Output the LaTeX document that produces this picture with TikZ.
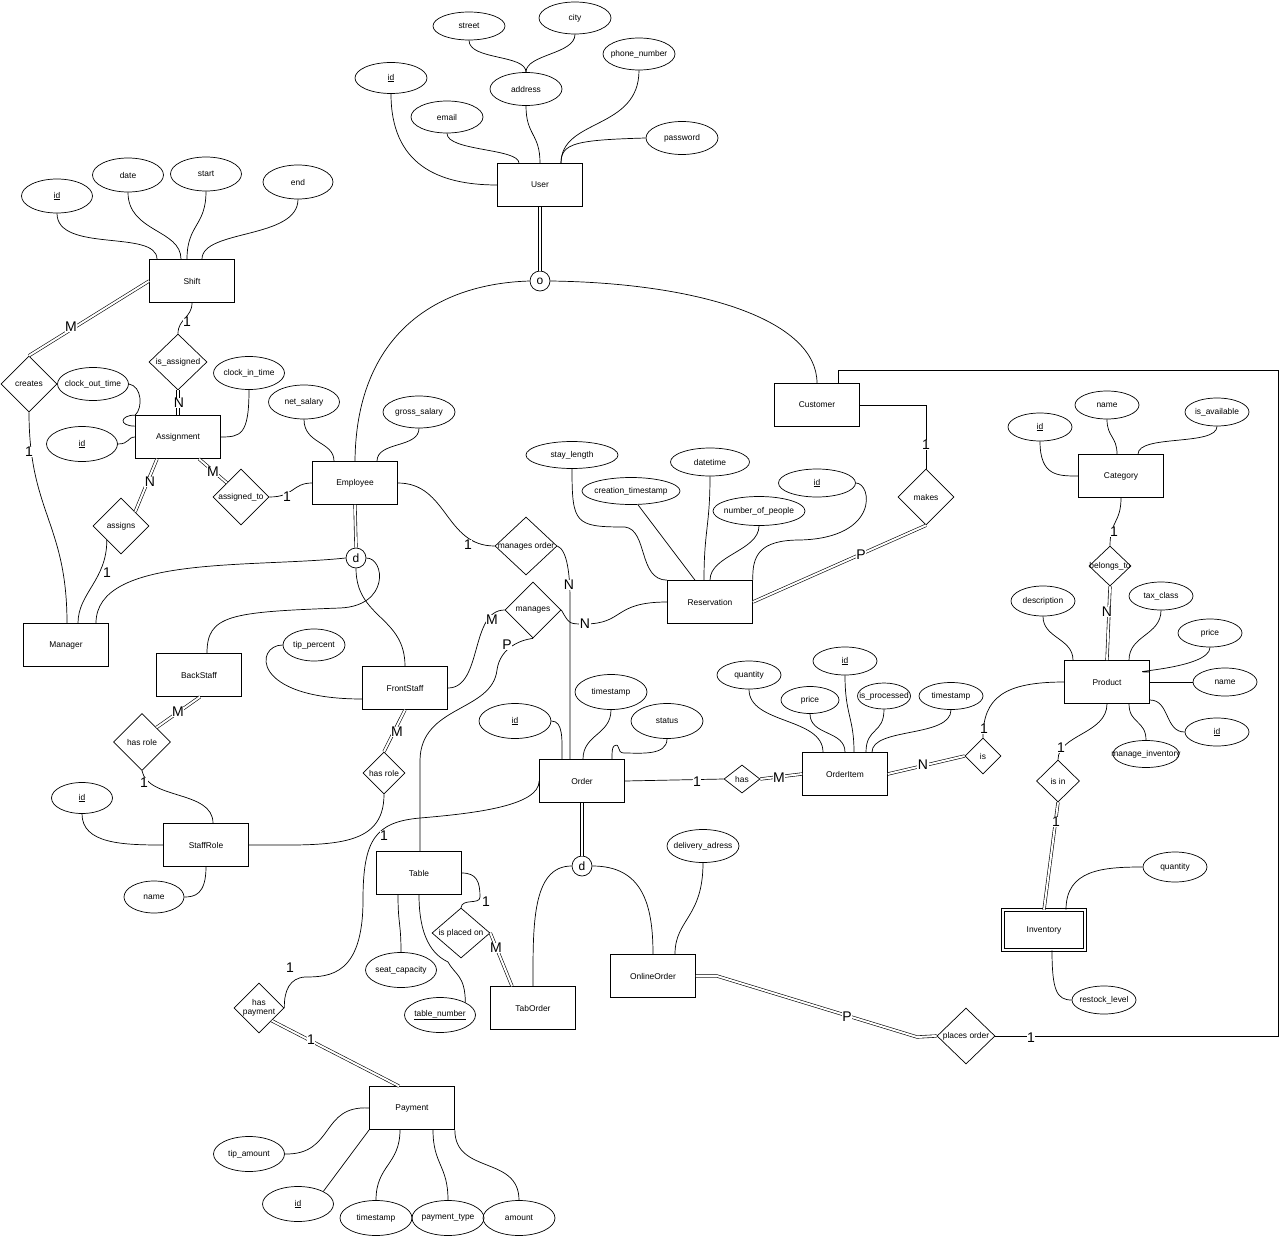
\documentclass[tikz,border=0pt]{standalone}
\usepackage{fontspec}
\setmainfont{Liberation Sans}
\usetikzlibrary{shapes.geometric,calc}
\newcommand{\mytxt}[1]{\makebox[0pt]{#1}}
\tikzset{
 erent/.style={draw, rectangle, minimum width=85pt, minimum height=43pt, inner sep=0pt, line width=0.7pt, font=\fontsize{8.4}{10}\selectfont},
 erattr/.style={draw, ellipse, minimum width=72pt, minimum height=32pt, inner sep=0pt, line width=0.7pt, font=\fontsize{8.4}{10}\selectfont},
 errel/.style={draw, diamond, minimum width=56pt, minimum height=56pt, inner sep=0pt, line width=0.7pt, font=\fontsize{8.4}{10}\selectfont},
 erspec/.style={draw, circle, minimum size=20pt, inner sep=0pt, line width=0.7pt, font=\fontsize{12}{12}\selectfont},
 erline/.style={line width=0.7pt},
 erdbl/.style={double, double distance=2pt, line width=0.6pt},
 ercard/.style={font=\fontsize{14}{14}\selectfont, fill=white, inner sep=0.5pt},
}
\begin{document}
\begin{tikzpicture}[x=1pt,y=-1pt]
\fill[white] (0,0) rectangle (1280,1236);
\useasboundingbox (0,0) rectangle (1280,1236);

% ---------------- entities
\node[erent] (User) at (540,185) {\mytxt{User}};
\node[erent] (Shift) at (192,281) {\mytxt{Shift}};
\node[erent] (Assignment) at (178,437) {\mytxt{Assignment}};
\node[erent] (Employee) at (355,483) {\mytxt{Employee}};
\node[erent] (Manager) at (66,645) {\mytxt{Manager}};
\node[erent] (BackStaff) at (199,675) {\mytxt{BackStaff}};
\node[erent] (FrontStaff) at (405,688) {\mytxt{FrontStaff}};
\node[erent] (StaffRole) at (206,845) {\mytxt{StaffRole}};
\node[erent] (Customer) at (817,405) {\mytxt{Customer}};
\node[erent] (Reservation) at (710,602) {\mytxt{Reservation}};
\node[erent] (Category) at (1121,476) {\mytxt{Category}};
\node[erent] (Product) at (1107,682) {\mytxt{Product}};
\node[erent] (Order) at (582,781) {\mytxt{Order}};
\node[erent] (OrderItem) at (845,774) {\mytxt{OrderItem}};
\node[erent] (Table) at (419,873) {\mytxt{Table}};
\node[erent] (TabOrder) at (533,1008) {\mytxt{TabOrder}};
\node[erent] (OnlineOrder) at (653,976) {\mytxt{OnlineOrder}};
\node[erent] (Payment) at (412,1108) {\mytxt{Payment}};
\node[erent, double, double distance=2.5pt, line width=0.6pt, minimum width=82pt, minimum height=40pt] (Inventory) at (1044,930) {\mytxt{Inventory}};

% ---------------- specialisation circles
\node[erspec] (o) at (540,281) {o};
\node[erspec] (d1) at (356,558) {d};
\node[erspec] (d2) at (582,866) {d};

% ---------------- relationships
\node[errel] (creates) at (29,384) {\mytxt{creates}};
\node[errel, minimum width=58pt] (isassigned) at (178,362) {\mytxt{is\_assigned}};
\node[errel] (assigns) at (121,526) {\mytxt{assigns}};
\node[errel] (assignedto) at (241,497) {\mytxt{assigned\_to}};
\node[errel, minimum width=57pt, minimum height=57pt] (hrl) at (142,742) {\mytxt{has role}};
\node[errel, minimum width=42pt, minimum height=42pt] (hrr) at (384,773) {\mytxt{has role}};
\node[errel, minimum width=62pt, minimum height=58pt] (managesorder) at (526,546) {\mytxt{manages order}};
\node[errel] (manages) at (533,610) {\mytxt{manages}};
\node[errel] (makes) at (926,497) {\mytxt{makes}};
\node[errel, minimum width=42pt, minimum height=40pt] (belongs) at (1110,566) {\mytxt{belongs\_to}};
\node[errel, minimum width=36pt, minimum height=36pt] (is) at (983,756) {\mytxt{is}};
\node[errel, minimum width=36pt, minimum height=28pt] (has) at (742,779) {\mytxt{has}};
\node[errel, minimum width=43pt, minimum height=42pt] (isin) at (1058,781) {\mytxt{is in}};
\node[errel, minimum width=58pt, minimum height=50pt] (placed) at (461,933) {\mytxt{is placed on}};
\node[errel, minimum width=50pt, minimum height=50pt] (haspay) at (259,1008) {\mytxt{\begin{tabular}{@{}c@{}}has\\[-1pt]payment\end{tabular}}};
\node[errel, minimum width=58pt, minimum height=56pt] (places) at (966,1036) {\mytxt{places order}};

% ---------------- attributes
\node[erattr, minimum height=31pt] (uid) at (391,78) {\mytxt{\underline{id}}};
\node[erattr] (email) at (447,117) {\mytxt{email}};
\node[erattr, minimum height=33pt] (address) at (526,89) {\mytxt{address}};
\node[erattr, minimum height=28pt] (street) at (469,26) {\mytxt{street}};
\node[erattr] (city) at (575,18) {\mytxt{city}};
\node[erattr] (phone) at (639,54) {\mytxt{phone\_number}};
\node[erattr, minimum height=33pt] (password) at (682,138) {\mytxt{password}};

\node[erattr, minimum width=71pt, minimum height=34pt] (sid) at (57,196) {\mytxt{\underline{id}}};
\node[erattr, minimum width=71pt, minimum height=34pt] (date) at (128,175) {\mytxt{date}};
\node[erattr, minimum width=71pt, minimum height=34pt] (start) at (206,174) {\mytxt{start}};
\node[erattr, minimum width=70pt, minimum height=34pt] (end) at (298,182) {\mytxt{end}};
\node[erattr, minimum width=71pt, minimum height=33pt] (cot) at (93,384) {\mytxt{clock\_out\_time}};
\node[erattr, minimum width=71pt, minimum height=33pt] (cin) at (249,373) {\mytxt{clock\_in\_time}};
\node[erattr, minimum width=71pt, minimum height=35pt] (aid) at (82,444) {\mytxt{\underline{id}}};
\node[erattr, minimum width=71pt, minimum height=34pt] (netsal) at (304,402) {\mytxt{net\_salary}};
\node[erattr] (grosssal) at (419,412) {\mytxt{gross\_salary}};
\node[erattr, minimum width=62pt] (tip) at (314,645) {\mytxt{tip\_percent}};
\node[erattr, minimum width=61pt, minimum height=31pt] (srid) at (82,798) {\mytxt{\underline{id}}};
\node[erattr, minimum width=60pt] (srname) at (154,897) {\mytxt{name}};

\node[erattr, minimum width=92pt, minimum height=27pt] (stay) at (572,455) {\mytxt{stay\_length}};
\node[erattr, minimum width=98pt, minimum height=27pt] (creation) at (631,491) {\mytxt{creation\_timestamp}};
\node[erattr, minimum width=79pt, minimum height=28pt] (datetime) at (710,462) {\mytxt{datetime}};
\node[erattr, minimum width=92pt, minimum height=29pt] (nop) at (759,511) {\mytxt{number\_of\_people}};
\node[erattr, minimum width=77pt, minimum height=28pt] (rid) at (817,483) {\mytxt{\underline{id}}};

\node[erattr, minimum width=64pt, minimum height=28pt] (cid) at (1040,427) {\mytxt{\underline{id}}};
\node[erattr, minimum width=64pt, minimum height=28pt] (cname) at (1107,405) {\mytxt{name}};
\node[erattr, minimum width=64pt, minimum height=28pt] (avail) at (1217,412) {\mytxt{is\_available}};

\node[erattr, minimum width=64pt, minimum height=30pt] (desc) at (1043,601) {\mytxt{description}};
\node[erattr, minimum width=64pt, minimum height=28pt] (tax) at (1161,596) {\mytxt{tax\_class}};
\node[erattr, minimum width=64pt, minimum height=28pt] (pprice) at (1210,633) {\mytxt{price}};
\node[erattr, minimum width=64pt, minimum height=28pt] (pname) at (1225,682) {\mytxt{name}};
\node[erattr, minimum width=64pt, minimum height=28pt] (pid) at (1217,732) {\mytxt{\underline{id}}};
\node[erattr, minimum width=66pt, minimum height=27pt] (maninv) at (1146,754) {\mytxt{manage\_inventory}};

\node[erattr, minimum width=64pt, minimum height=28pt] (oiqty) at (749,675) {\mytxt{quantity}};
\node[erattr, minimum width=58pt, minimum height=27pt] (oiprice) at (810,700) {\mytxt{price}};
\node[erattr, minimum width=64pt, minimum height=28pt] (oiid) at (845,661) {\mytxt{\underline{id}}};
\node[erattr, minimum width=53pt, minimum height=26pt] (oiproc) at (884,696) {\mytxt{is\_processed}};
\node[erattr, minimum width=64pt, minimum height=27pt] (oits) at (951,696) {\mytxt{timestamp}};

\node[erattr, minimum height=35pt] (oid) at (515,721) {\mytxt{\underline{id}}};
\node[erattr, minimum height=35pt] (ots) at (611,692) {\mytxt{timestamp}};
\node[erattr, minimum height=35pt] (status) at (667,721) {\mytxt{status}};
\node[erattr, minimum height=33pt] (deliv) at (703,846) {\mytxt{delivery\_adress}};

\node[erattr, minimum width=71pt, minimum height=35pt] (seat) at (401,970) {\mytxt{seat\_capacity}};
\node[erattr, minimum width=71pt, minimum height=35pt] (tnum) at (440,1015) {\mytxt{\underline{table\_number}}};

\node[erattr, minimum width=71pt, minimum height=35pt] (tipamt) at (249,1154) {\mytxt{tip\_amount}};
\node[erattr, minimum width=71pt, minimum height=35pt] (payid) at (298,1204) {\mytxt{\underline{id}}};
\node[erattr, minimum height=35pt] (pts) at (376,1218) {\mytxt{timestamp}};
\node[erattr, minimum height=35pt] (ptype) at (448,1218) {\mytxt{payment\_type}};
\node[erattr, minimum height=35pt] (amount) at (519,1218) {\mytxt{amount}};

\node[erattr, minimum width=64pt, minimum height=30pt] (iqty) at (1175,867) {\mytxt{quantity}};
\node[erattr, minimum width=64pt, minimum height=28pt] (restock) at (1104,1000) {\mytxt{restock\_level}};

% ---------------- connectors
\begin{scope}[erline]
% User
\draw (uid.south) .. controls +(0,70) and +(-60,0) .. (User.west);
\draw (email.south) .. controls +(0,18) and +(0,-15) .. ([xshift=-21pt]User.north);
\draw (address.south) .. controls +(0,30) and +(0,-30) .. (User.north);
\draw (street.south) .. controls +(0,20) and +(0,-18) .. (address.north);
\draw (city.south) .. controls +(0,20) and +(0,-18) .. (address.north);
\draw (phone.south) .. controls +(0,60) and +(0,-45) .. ([xshift=21pt]User.north);
\draw (password.west) .. controls +(-70,2) and +(0,-20) .. ([xshift=21pt]User.north);
\draw[erdbl] (User.south) -- (o.north);
\draw (o.west) .. controls (430,284) and (356,340) .. (Employee.north);
\draw (o.east) .. controls (700,283) and (817,320) .. (Customer.north);

% Shift
\draw (sid.south) .. controls +(0,40) and +(0,-30) .. ([xshift=-35pt]Shift.north);
\draw (date.south) .. controls +(0,40) and +(0,-30) .. ([xshift=-11pt]Shift.north);
\draw (start.south) .. controls +(0,35) and +(0,-35) .. ([xshift=-5pt]Shift.north);
\draw (end.south) .. controls +(0,40) and +(0,-30) .. ([xshift=10pt]Shift.north);
\draw[erdbl] (Shift.west) -- (creates.north);
\draw (creates.south) .. controls +(0,100) and +(0,-100) .. ([xshift=1pt]Manager.north);
\draw (Shift.south) .. controls +(0,15) and +(0,-15) .. (isassigned.north);
\draw[erdbl] (isassigned.south) -- (Assignment.north);

% Assignment
\draw (cot.east) .. controls (142,386) and (143,408) .. (Assignment.north west) .. controls (120,415) and (118,426) .. ([yshift=-11pt]Assignment.north west);
\draw (aid.east) .. controls +(12,0) and +(-8,0) .. (Assignment.west);
\draw (cin.south) .. controls +(0,45) and +(20,0) .. (Assignment.east);
\draw[erdbl] ([xshift=-21pt]Assignment.south) -- (assigns.north east);
\draw[erdbl] ([xshift=21pt]Assignment.south) -- (assignedto.north west);
\draw (assignedto.east) .. controls +(25,0) and +(-20,0) .. (Employee.west);
\draw (assigns.south west) .. controls +(0,40) and +(0,-30) .. ([xshift=12pt]Manager.north);

% Employee
\draw (netsal.south) .. controls +(0,25) and +(0,-20) .. ([xshift=-21pt]Employee.north);
\draw (grosssal.south) .. controls +(0,20) and +(0,-20) .. ([xshift=22pt]Employee.north);
\draw (Employee.east) .. controls +(50,0) and +(-50,0) .. (managesorder.west);
\draw (managesorder.east) .. controls +(10,4) and +(0,-25) .. (570,600) -- ([xshift=-12pt]Order.north);
\draw[erdbl] (Employee.south) -- (d1.north);
\draw (d1.west) .. controls (250,568) and (96,555) .. ([xshift=30pt]Manager.north);
\draw (d1.east) .. controls (385,558) and (390,606) .. (340,608) .. controls (230,612) and (207,615) .. ([xshift=8pt]BackStaff.north);
\draw (d1.south) .. controls +(0,50) and +(0,-50) .. (FrontStaff.north);
\draw (tip.west) .. controls (255,645) and (250,699) .. ([yshift=-11pt]FrontStaff.west);
\draw (FrontStaff.east) .. controls +(35,0) and +(-35,0) .. (manages.west);
\draw (manages.south) .. controls (520,640) and (500,648) .. (497,670) .. controls (492,712) and (421,705) .. (420,760) -- ([xshift=1pt]Table.north);
\draw (manages.east) .. controls +(8,14) and +(-15,0) .. (584,624) .. controls (625,624) and (612,602) .. (Reservation.west);

% Staff roles
\draw[erdbl] ([xshift=1pt]BackStaff.south) -- (hrl.north east);
\draw (hrl.south) .. controls (148,800) and (213,790) .. ([xshift=7pt]StaffRole.north);
\draw (srid.south) .. controls +(0,30) and +(-40,0) .. (StaffRole.west);
\draw (StaffRole.south) .. controls +(0,28) and +(10,0) .. (srname.east);
\draw[erdbl] (FrontStaff.south) -- (hrr.north);
\draw (hrr.south) .. controls +(0,55) and +(80,0) .. (StaffRole.east);

% Customer / Reservation
\draw (Customer.east) -| (makes.north);
\draw[erdbl] (makes.south) -- (Reservation.east);
\draw (stay.south) .. controls +(0,55) and +(-50,0) .. (625,527) .. controls (648,530) and (638,580) .. (Reservation.north west);
\draw ([xshift=7pt]creation.south) -- ([xshift=-15pt]Reservation.north);
\draw (datetime.south) .. controls +(0,50) and +(0,-50) .. ([xshift=-6pt]Reservation.north);
\draw (nop.south) .. controls +(0,25) and +(0,-25) .. (Reservation.north);
\draw (rid.east) .. controls (872,483) and (880,538) .. (800,540) .. controls (760,540) and (752,555) .. (Reservation.north east);

% Category / Product
\draw (cid.south) .. controls +(0,35) and +(-20,0) .. (Category.west);
\draw (cname.south) .. controls +(0,18) and +(0,-18) .. ([xshift=-4pt]Category.north);
\draw (avail.south) .. controls +(0,20) and +(0,-20) .. ([xshift=17pt]Category.north);
\draw (Category.south) .. controls +(0,25) and +(0,-25) .. (belongs.north);
\draw[erdbl] (belongs.south) -- (Product.north);
\draw (desc.south) .. controls +(0,22) and +(0,-22) .. ([xshift=-34pt]Product.north);
\draw (tax.south) .. controls +(0,25) and +(0,-25) .. ([xshift=22pt]Product.north);
\draw (pprice.south) .. controls +(0,22) and +(-35,0) .. ([yshift=10pt]Product.east);
\draw (pname.west) -- (Product.east);
\draw (pid.west) .. controls +(-20,0) and +(20,0) .. ([yshift=-18pt]Product.east);
\draw (maninv.north) .. controls +(0,-20) and +(0,20) .. ([xshift=22pt]Product.south);
\draw (Product.south) .. controls +(0,30) and +(0,-25) .. (isin.north);
\draw (Product.west) .. controls +(-60,0) and +(0,-40) .. (is.north);

% OrderItem
\draw[erdbl] (OrderItem.east) -- (is.west);
\draw (Order.east) -- (has.west);
\draw[erdbl] (has.east) -- (OrderItem.west);
\draw (oiqty.south) .. controls +(0,35) and +(0,-35) .. ([xshift=-22pt]OrderItem.north);
\draw (oiprice.south) .. controls +(0,22) and +(0,-22) .. (OrderItem.north);
\draw (oiid.south) .. controls +(0,40) and +(0,-35) .. ([xshift=9pt]OrderItem.north);
\draw (oiproc.south) .. controls +(0,25) and +(0,-25) .. ([xshift=21pt]OrderItem.north);
\draw (oits.south) .. controls +(0,28) and +(0,-25) .. ([xshift=27pt]OrderItem.north);

% Order
\draw (oid.east) .. controls +(12,0) and +(0,-20) .. ([xshift=-20pt]Order.north);
\draw (ots.south) .. controls +(0,25) and +(0,-25) .. ([xshift=1pt]Order.north);
\draw (status.south) .. controls (667,756) and (640,753) .. (624,753) .. controls (616,753) and (621,742) .. (614,746) .. controls (612,748) and (612,752) .. ([xshift=30pt]Order.north);
\draw (Order.west) .. controls (539,805) and (480,813) .. (420,818) .. controls (375,822) and (363,840) .. (363,900) .. controls (363,975) and (330,977) .. (305,977) .. controls (290,978) and (284,990) .. (haspay.east);
\draw[erdbl] (haspay.south east) -- ([xshift=-13pt]Payment.north);
\draw[erdbl] (Order.south) -- (d2.north);
\draw (d2.west) .. controls +(-40,0) and +(0,-60) .. (TabOrder.north);
\draw (d2.east) .. controls +(50,0) and +(0,-50) .. (OnlineOrder.north);
\draw (deliv.south) .. controls +(0,55) and +(0,-35) .. ([xshift=22pt]OnlineOrder.north);
\draw[erdbl] (OnlineOrder.east) -- (717,976) -- (917,1037) -- (places.west);
\draw (places.east) -| (1278,370) -| ([xshift=21pt]Customer.north);

% Payment
\draw (Payment.west) .. controls (320,1105) and (335,1155) .. (tipamt.east);
\draw (Payment.south west) -- (payid.north east);
\draw ([xshift=-12pt]Payment.south) .. controls +(0,35) and +(0,-35) .. (pts.north);
\draw ([xshift=21pt]Payment.south) .. controls +(0,35) and +(0,-35) .. (ptype.north);
\draw (Payment.south east) .. controls +(0,45) and +(0,-45) .. (amount.north);

% Table
\draw (Table.east) .. controls +(15,0) and +(0,-15) .. (480,897) .. controls (480,905) and (462,898) .. (placed.north);
\draw[erdbl] (placed.east) -- ([xshift=-21pt]TabOrder.north);
\draw ([xshift=-21pt]Table.south) .. controls +(0,30) and +(0,-30) .. (seat.north);
\draw (Table.south) .. controls +(0,50) and +(-10,-5) .. (448,962) .. controls (455,975) and (465,975) .. (tnum.north east);

% Inventory
\draw[erdbl] (isin.south) -- (Inventory.north);
\draw ([xshift=22pt]Inventory.north) .. controls +(0,-40) and +(-40,0) .. (iqty.west);
\draw ([xshift=8pt]Inventory.south) .. controls +(0,40) and +(-15,0) .. (restock.west);
\end{scope}

% ---------------- cardinality labels
\node[ercard] (c1) at (71,327) {M};
\node[ercard] (c2) at (29,452) {1};
\node[ercard] (c3) at (187,322) {1};
\node[ercard] (c4) at (179,403) {N};
\node[ercard] (c5) at (150,482) {N};
\node[ercard] (c6) at (213,472) {M};
\node[ercard] (c7) at (287,497) {1};
\node[ercard] (c8) at (107,573) {1};
\node[ercard] (c9) at (468,545) {1};
\node[ercard] (c10) at (569,585) {N};
\node[ercard] (c11) at (492,620) {M};
\node[ercard] (c12) at (507,645) {P};
\node[ercard] (c13) at (585,624) {N};
\node[ercard] (c14) at (926,445) {1};
\node[ercard] (c15) at (861,555) {P};
\node[ercard] (c16) at (1114,532) {1};
\node[ercard] (c17) at (1107,612) {N};
\node[ercard] (c18) at (984,729) {1};
\node[ercard] (c19) at (1061,748) {1};
\node[ercard] (c20) at (923,765) {N};
\node[ercard] (c21) at (697,782) {1};
\node[ercard] (c22) at (779,778) {M};
\node[ercard] (c23) at (1056,822) {1};
\node[ercard] (c24) at (178,712) {M};
\node[ercard] (c25) at (144,783) {1};
\node[ercard] (c26) at (397,732) {M};
\node[ercard] (c27) at (384,836) {1};
\node[ercard] (c28) at (290,968) {1};
\node[ercard] (c29) at (311,1040) {1};
\node[ercard] (c30) at (486,902) {1};
\node[ercard] (c31) at (496,948) {M};
\node[ercard] (c32) at (847,1017) {P};
\node[ercard] (c33) at (1031,1038) {1};
\end{tikzpicture}
\end{document}
